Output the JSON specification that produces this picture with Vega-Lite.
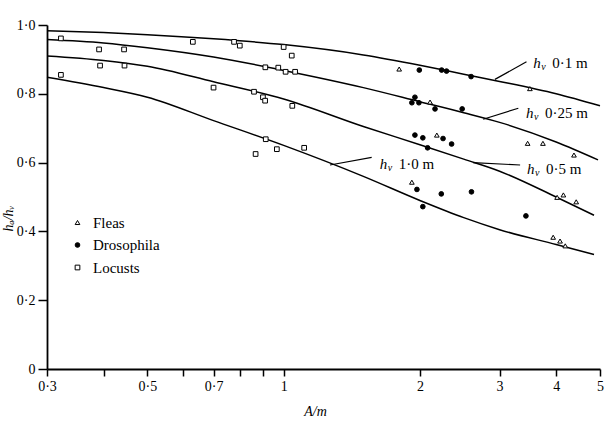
{
  "$schema": "https://vega.github.io/schema/vega-lite/v6.json",
  "width": 553,
  "height": 344,
  "autosize": {"type": "none"},
  "padding": {"left": 47, "top": 25, "right": 7, "bottom": 53},
  "background": "white",
  "config": {
    "font": "Liberation Serif",
    "view": {"stroke": null},
    "axis": {"domainColor": "black", "domainWidth": 1.8, "tickColor": "black", "tickWidth": 1.5, "labelColor": "black", "labelFontSize": 14, "labelFont": "Liberation Serif", "grid": false, "titleColor": "black", "titleFont": "Liberation Serif", "titleFontWeight": "normal"},
    "legend": {"title": null, "orient": "none", "legendX": 23, "legendY": 190, "padding": 0, "labelFontSize": 15, "labelFont": "Liberation Serif", "labelColor": "black", "symbolSize": 22, "symbolStrokeColor": "black", "symbolStrokeWidth": 1, "rowPadding": 6.5, "labelOffset": 8}
  },
  "datasets": {
    "pts": [
      {"species": "Locusts", "x": 0.322, "y": 0.961},
      {"species": "Locusts", "x": 0.391, "y": 0.929},
      {"species": "Locusts", "x": 0.444, "y": 0.929},
      {"species": "Locusts", "x": 0.393, "y": 0.882},
      {"species": "Locusts", "x": 0.445, "y": 0.882},
      {"species": "Locusts", "x": 0.322, "y": 0.855},
      {"species": "Locusts", "x": 0.63, "y": 0.951},
      {"species": "Locusts", "x": 0.777, "y": 0.951},
      {"species": "Locusts", "x": 0.8, "y": 0.94},
      {"species": "Locusts", "x": 1.0, "y": 0.936},
      {"species": "Locusts", "x": 1.042, "y": 0.911},
      {"species": "Locusts", "x": 0.911, "y": 0.877},
      {"species": "Locusts", "x": 0.973, "y": 0.876},
      {"species": "Locusts", "x": 1.01, "y": 0.864},
      {"species": "Locusts", "x": 1.06, "y": 0.864},
      {"species": "Locusts", "x": 0.7, "y": 0.818},
      {"species": "Locusts", "x": 0.86, "y": 0.806},
      {"species": "Locusts", "x": 0.9, "y": 0.79},
      {"species": "Locusts", "x": 0.91, "y": 0.78},
      {"species": "Locusts", "x": 1.045, "y": 0.765},
      {"species": "Locusts", "x": 0.913, "y": 0.668},
      {"species": "Locusts", "x": 0.867, "y": 0.625},
      {"species": "Locusts", "x": 0.966, "y": 0.639},
      {"species": "Locusts", "x": 1.11, "y": 0.643},
      {"species": "Drosophila", "x": 1.994, "y": 0.869},
      {"species": "Drosophila", "x": 2.234, "y": 0.869},
      {"species": "Drosophila", "x": 2.29, "y": 0.866},
      {"species": "Drosophila", "x": 2.595, "y": 0.85},
      {"species": "Drosophila", "x": 1.95, "y": 0.79},
      {"species": "Drosophila", "x": 1.92, "y": 0.774},
      {"species": "Drosophila", "x": 1.99, "y": 0.774},
      {"species": "Drosophila", "x": 2.16, "y": 0.756},
      {"species": "Drosophila", "x": 2.48, "y": 0.756},
      {"species": "Drosophila", "x": 1.95, "y": 0.68},
      {"species": "Drosophila", "x": 2.03, "y": 0.672},
      {"species": "Drosophila", "x": 2.25, "y": 0.67},
      {"species": "Drosophila", "x": 2.35, "y": 0.654},
      {"species": "Drosophila", "x": 2.08, "y": 0.643},
      {"species": "Drosophila", "x": 1.97, "y": 0.522},
      {"species": "Drosophila", "x": 2.23, "y": 0.509},
      {"species": "Drosophila", "x": 2.6, "y": 0.515},
      {"species": "Drosophila", "x": 2.03, "y": 0.472},
      {"species": "Drosophila", "x": 3.43, "y": 0.445},
      {"species": "Fleas", "x": 1.8, "y": 0.872},
      {"species": "Fleas", "x": 3.5, "y": 0.815},
      {"species": "Fleas", "x": 2.106, "y": 0.776},
      {"species": "Fleas", "x": 2.18, "y": 0.68},
      {"species": "Fleas", "x": 3.46, "y": 0.656},
      {"species": "Fleas", "x": 3.74, "y": 0.656},
      {"species": "Fleas", "x": 4.38, "y": 0.622},
      {"species": "Fleas", "x": 1.92, "y": 0.543},
      {"species": "Fleas", "x": 4.02, "y": 0.499},
      {"species": "Fleas", "x": 4.15, "y": 0.506},
      {"species": "Fleas", "x": 4.43, "y": 0.486},
      {"species": "Fleas", "x": 3.94, "y": 0.383},
      {"species": "Fleas", "x": 4.08, "y": 0.372},
      {"species": "Fleas", "x": 4.19, "y": 0.358}
    ],
    "curves": [
      {"hv": "0.1", "x": 0.3, "y": 0.983}, {"hv": "0.1", "x": 0.4, "y": 0.978}, {"hv": "0.1", "x": 0.5, "y": 0.972}, {"hv": "0.1", "x": 0.7, "y": 0.96}, {"hv": "0.1", "x": 1, "y": 0.943}, {"hv": "0.1", "x": 1.5, "y": 0.913}, {"hv": "0.1", "x": 2, "y": 0.883}, {"hv": "0.1", "x": 2.5, "y": 0.857}, {"hv": "0.1", "x": 3, "y": 0.836}, {"hv": "0.1", "x": 4, "y": 0.8}, {"hv": "0.1", "x": 5, "y": 0.765},
      {"hv": "0.25", "x": 0.3, "y": 0.958}, {"hv": "0.25", "x": 0.4, "y": 0.948}, {"hv": "0.25", "x": 0.5, "y": 0.934}, {"hv": "0.25", "x": 0.7, "y": 0.907}, {"hv": "0.25", "x": 1, "y": 0.868}, {"hv": "0.25", "x": 1.5, "y": 0.818}, {"hv": "0.25", "x": 2, "y": 0.777}, {"hv": "0.25", "x": 2.5, "y": 0.745}, {"hv": "0.25", "x": 3, "y": 0.717}, {"hv": "0.25", "x": 4, "y": 0.66}, {"hv": "0.25", "x": 4.95, "y": 0.608},
      {"hv": "0.5", "x": 0.3, "y": 0.91}, {"hv": "0.5", "x": 0.4, "y": 0.897}, {"hv": "0.5", "x": 0.5, "y": 0.88}, {"hv": "0.5", "x": 0.7, "y": 0.835}, {"hv": "0.5", "x": 1, "y": 0.785}, {"hv": "0.5", "x": 1.5, "y": 0.705}, {"hv": "0.5", "x": 2, "y": 0.652}, {"hv": "0.5", "x": 2.5, "y": 0.61}, {"hv": "0.5", "x": 3, "y": 0.575}, {"hv": "0.5", "x": 4, "y": 0.5}, {"hv": "0.5", "x": 4.85, "y": 0.447},
      {"hv": "1.0", "x": 0.3, "y": 0.848}, {"hv": "1.0", "x": 0.4, "y": 0.818}, {"hv": "1.0", "x": 0.5, "y": 0.79}, {"hv": "1.0", "x": 0.7, "y": 0.722}, {"hv": "1.0", "x": 1, "y": 0.65}, {"hv": "1.0", "x": 1.5, "y": 0.56}, {"hv": "1.0", "x": 2, "y": 0.49}, {"hv": "1.0", "x": 2.5, "y": 0.44}, {"hv": "1.0", "x": 3, "y": 0.405}, {"hv": "1.0", "x": 4, "y": 0.362}, {"hv": "1.0", "x": 4.85, "y": 0.333}
    ],
    "labels": [
      {"rest": "0·1 m", "x": 3.56, "y": 0.89, "x1": 3.44, "y1": 0.893, "x2": 2.93, "y2": 0.842},
      {"rest": "0·25 m", "x": 3.43, "y": 0.745, "x1": 3.3, "y1": 0.758, "x2": 2.76, "y2": 0.726},
      {"rest": "0·5 m", "x": 3.45, "y": 0.581, "x1": 3.33, "y1": 0.593, "x2": 2.62, "y2": 0.6},
      {"rest": "1·0 m", "x": 1.63, "y": 0.596, "x1": 1.565, "y1": 0.615, "x2": 1.266, "y2": 0.593}
    ]
  },
  "layer": [
    {
      "data": {"name": "curves"},
      "mark": {"type": "line", "color": "black", "strokeWidth": 1.5, "interpolate": "monotone"},
      "encoding": {
        "x": {"field": "x", "type": "quantitative", "scale": {"type": "log", "domain": [0.3, 5], "nice": false},
          "axis": {"values": [0.3, 0.4, 0.5, 0.6, 0.7, 0.8, 0.9, 1, 2, 3, 4, 5], "format": "~g", "labelExpr": "indexof([0.3, 0.5, 0.7, 1, 2, 3, 4, 5], datum.value) >= 0 ? replace(datum.label, '.', '·') : ''", "tickSize": 7, "labelPadding": 3, "labelFlush": false, "labelOverlap": false, "title": "A/m", "titleFontStyle": "italic", "titleFontSize": 14, "titleX": 268, "titleY": 42, "titleBaseline": "middle"}},
        "y": {"field": "y", "type": "quantitative", "scale": {"domain": [0, 1], "nice": false},
          "axis": {"values": [0, 0.2, 0.4, 0.6, 0.8, 1], "format": ".1f", "labelExpr": "datum.value == 0 ? '0' : replace(datum.label, '.', '·')", "tickSize": 9, "labelPadding": 3, "labelFlush": false, "title": "hₐ/hᵥ", "titleFontStyle": "italic", "titleFontSize": 14, "titleX": -39, "titleY": 193, "titleBaseline": "middle", "titleAlign": "center"}},
        "detail": {"field": "hv"}
      }
    },
    {
      "data": {"name": "labels"},
      "mark": {"type": "rule", "color": "black", "strokeWidth": 1.2},
      "encoding": {
        "x": {"field": "x1", "type": "quantitative"},
        "y": {"field": "y1", "type": "quantitative"},
        "x2": {"field": "x2"},
        "y2": {"field": "y2"}
      }
    },
    {
      "data": {"name": "labels"},
      "mark": {"type": "text", "align": "left", "baseline": "middle", "fontSize": 15, "fontStyle": "italic", "color": "black"},
      "encoding": {
        "x": {"field": "x", "type": "quantitative"},
        "y": {"field": "y", "type": "quantitative"},
        "text": {"value": "h"}
      }
    },
    {
      "data": {"name": "labels"},
      "mark": {"type": "text", "align": "left", "baseline": "middle", "fontSize": 10, "fontStyle": "italic", "color": "black", "dx": 8, "dy": 4},
      "encoding": {
        "x": {"field": "x", "type": "quantitative"},
        "y": {"field": "y", "type": "quantitative"},
        "text": {"value": "v"}
      }
    },
    {
      "data": {"name": "labels"},
      "mark": {"type": "text", "align": "left", "baseline": "middle", "fontSize": 15, "color": "black", "dx": 19},
      "encoding": {
        "x": {"field": "x", "type": "quantitative"},
        "y": {"field": "y", "type": "quantitative"},
        "text": {"field": "rest"}
      }
    },
    {
      "data": {"name": "pts"},
      "mark": {"type": "point", "filled": true, "strokeWidth": 1, "opacity": 1, "size": 22},
      "encoding": {
        "x": {"field": "x", "type": "quantitative"},
        "y": {"field": "y", "type": "quantitative"},
        "shape": {"field": "species", "type": "nominal", "scale": {"domain": ["Fleas", "Drosophila", "Locusts"], "range": ["triangle-up", "circle", "square"]},
          "legend": {"title": null, "orient": "none", "legendX": 23, "legendY": 190, "padding": 0, "labelFontSize": 15, "labelFont": "Liberation Serif", "labelColor": "black", "symbolSize": 22, "rowPadding": 6.5, "labelOffset": 8}},
        "fill": {"field": "species", "type": "nominal", "scale": {"domain": ["Fleas", "Drosophila", "Locusts"], "range": ["white", "black", "white"]},
          "legend": {"title": null, "orient": "none", "legendX": 23, "legendY": 190, "padding": 0, "labelFontSize": 15, "labelFont": "Liberation Serif", "labelColor": "black", "symbolSize": 22, "rowPadding": 6.5, "labelOffset": 8}},
        "stroke": {"field": "species", "type": "nominal", "scale": {"domain": ["Fleas", "Drosophila", "Locusts"], "range": ["black", "black", "black"]},
          "legend": {"title": null, "orient": "none", "legendX": 23, "legendY": 190, "padding": 0, "labelFontSize": 15, "labelFont": "Liberation Serif", "labelColor": "black", "symbolSize": 22, "rowPadding": 6.5, "labelOffset": 8}}
      }
    }
  ]
}
